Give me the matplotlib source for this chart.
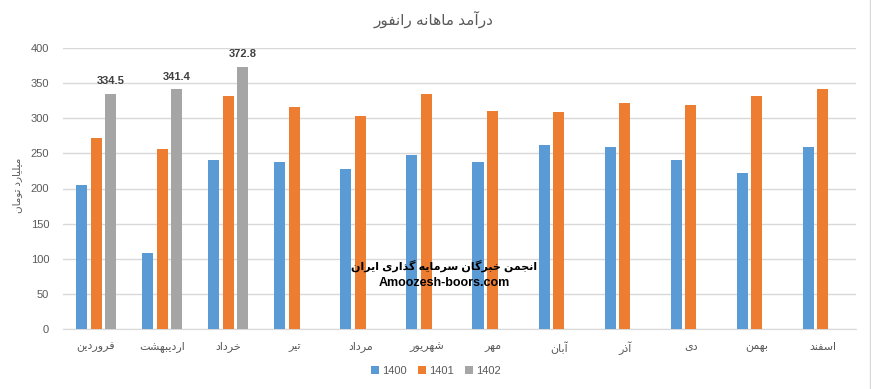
import numpy as np
import matplotlib
matplotlib.use("Agg")
import matplotlib.pyplot as plt
from matplotlib.patches import Patch

plt.rcParams['font.family'] = ['Liberation Sans', 'DejaVu Sans']

# ---------------------------------------------------------------------------
# Data
# ---------------------------------------------------------------------------
months = ["فروردین", "اردیبهشت", "خرداد", "تیر", "مرداد", "شهریور",
          "مهر", "آبان", "آذر", "دی", "بهمن", "اسفند"]
years = ["1400", "1401", "1402"]
rev_1400 = [205, 108, 241, 238, 228, 248, 238, 262, 259, 241, 222, 259]
rev_1401 = [272, 256, 332, 316, 303, 335, 310, 309, 322, 319, 332, 342]
rev_1402 = [334.5, 341.4, 372.8] + [np.nan] * 9

title = "درآمد ماهانه رانفور"
ylabel = "میلیارد تومان"
watermark_fa = "انجمن خبرگان سرمایه گذاری ایران"
watermark_en = "Amoozesh-boors.com"

colors = ["#5B9BD5", "#ED7D31", "#A5A5A5"]

# ---------------------------------------------------------------------------
# Minimal Persian shaping (matplotlib has no bidi / joining support)
# forms: isolated, final, initial, medial
# ---------------------------------------------------------------------------
FORMS = {
    'ا': (0xFE8D, 0xFE8E), 'آ': (0xFE81, 0xFE82),
    'ب': (0xFE8F, 0xFE90, 0xFE91, 0xFE92), 'پ': (0xFB56, 0xFB57, 0xFB58, 0xFB59),
    'ت': (0xFE95, 0xFE96, 0xFE97, 0xFE98), 'ج': (0xFE9D, 0xFE9E, 0xFE9F, 0xFEA0),
    'خ': (0xFEA5, 0xFEA6, 0xFEA7, 0xFEA8), 'د': (0xFEA9, 0xFEAA),
    'ذ': (0xFEAB, 0xFEAC), 'ر': (0xFEAD, 0xFEAE), 'ز': (0xFEAF, 0xFEB0),
    'س': (0xFEB1, 0xFEB2, 0xFEB3, 0xFEB4), 'ش': (0xFEB5, 0xFEB6, 0xFEB7, 0xFEB8),
    'ف': (0xFED1, 0xFED2, 0xFED3, 0xFED4), 'ک': (0xFB8E, 0xFB8F, 0xFB90, 0xFB91),
    'گ': (0xFB92, 0xFB93, 0xFB94, 0xFB95), 'ل': (0xFEDD, 0xFEDE, 0xFEDF, 0xFEE0),
    'م': (0xFEE1, 0xFEE2, 0xFEE3, 0xFEE4), 'ن': (0xFEE5, 0xFEE6, 0xFEE7, 0xFEE8),
    'ه': (0xFEE9, 0xFEEA, 0xFEEB, 0xFEEC), 'و': (0xFEED, 0xFEEE),
    'ی': (0xFBFC, 0xFBFD, 0xFBFE, 0xFBFF),
}


def shape(text):
    out = []
    for i, ch in enumerate(text):
        if ch not in FORMS:
            out.append(ch)
            continue
        f = FORMS[ch]
        prev = text[i - 1] if i > 0 else ""
        nxt = text[i + 1] if i + 1 < len(text) else ""
        joins_prev = prev in FORMS and len(FORMS[prev]) == 4
        joins_next = len(f) == 4 and nxt in FORMS
        if joins_prev and joins_next:
            out.append(chr(f[3]))
        elif joins_prev:
            out.append(chr(f[1]))
        elif joins_next:
            out.append(chr(f[2]))
        else:
            out.append(chr(f[0]))
    return "".join(out)[::-1]


# ---------------------------------------------------------------------------
# Plot
# ---------------------------------------------------------------------------
fig = plt.figure(figsize=(8.71, 3.89), dpi=100)
ax = fig.add_axes([63 / 871, 60 / 389, 793 / 871, 281 / 389])

x = np.arange(len(months))
width = 0.167
offsets = [-0.22, 0, 0.22]
series = [rev_1400, rev_1401, rev_1402]
for vals, off, c in zip(series, offsets, colors):
    ax.bar(x + off, vals, width, color=c, zorder=3)

# data labels on the 1402 bars
for xi, v in zip(x, rev_1402):
    if not np.isnan(v):
        ax.annotate(f"{v:.1f}", (xi + offsets[2], v), xytext=(0, 5.5),
                    textcoords="offset points", ha="center", va="bottom",
                    fontsize=8, fontweight="bold", color="#404040")

ax.set_xlim(-0.5, len(months) - 0.5)
ax.set_ylim(0, 400)
ax.set_yticks(np.arange(0, 401, 50))
ax.grid(axis="y", color="#D9D9D9", linewidth=1, zorder=0)
for s in ["top", "right", "left"]:
    ax.spines[s].set_visible(False)
ax.spines["bottom"].set_color("#D9D9D9")
ax.tick_params(axis="both", length=0, colors="#595959", labelsize=8)
ax.tick_params(axis="y", pad=10)
ax.tick_params(axis="x", pad=9)
ax.set_xticks(x)
ax.set_xticklabels([shape(m) for m in months])

fig.text(17 / 871, 1 - 185 / 389, shape(ylabel), rotation=90, ha="center",
         va="center", fontsize=7.5, color="#595959")
fig.text(434 / 871, 1 - 19 / 389, shape(title), ha="center", va="center",
         fontsize=11, color="#595959")

# watermark
fig.text(444 / 871, 1 - 266 / 389, shape(watermark_fa), ha="center", va="center",
         fontsize=8, fontweight="bold", color="black")
fig.text(444 / 871, 1 - 283 / 389, watermark_en, ha="center", va="center",
         fontsize=9, fontweight="bold", color="black")

handles = [Patch(facecolor=c) for c in colors]
fig.legend(handles, years, loc="center", bbox_to_anchor=(436 / 871, 1 - 371 / 389),
           ncol=3, frameon=False, fontsize=8, handlelength=0.7, handleheight=0.7,
           handletextpad=0.3, columnspacing=1.0, labelcolor="#595959")

# right edge of the chart border
fig.add_artist(plt.Line2D([869.5 / 871] * 2, [0, 1], color="#D9D9D9", linewidth=1))

fig.savefig("out.png", dpi=100)
